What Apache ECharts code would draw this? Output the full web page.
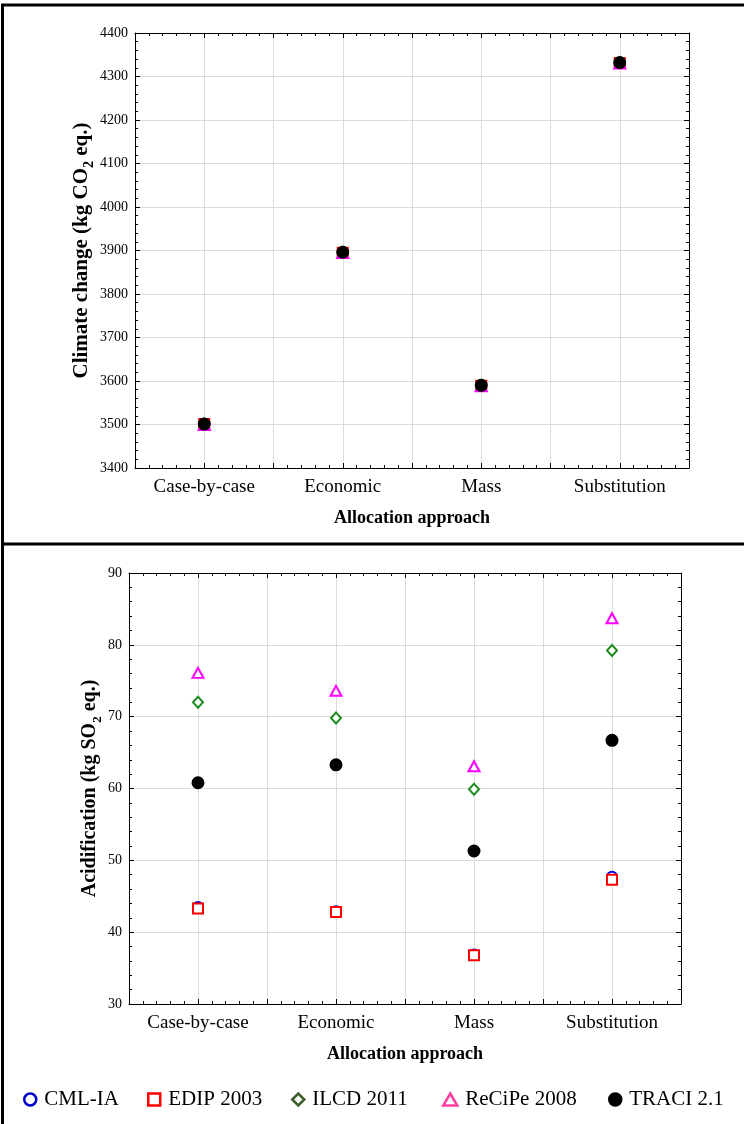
<!DOCTYPE html>
<html>
<head>
<meta charset="utf-8">
<script src="https://cdn.jsdelivr.net/npm/echarts@6/dist/echarts.min.js"></script>
<style>
html, body { margin: 0; padding: 0; background: #fff; }
#chart { width: 744px; height: 1124px; }
</style>
</head>
<body>
<div id="chart"></div>
<script>
const categories = ['Case-by-case', 'Economic', 'Mass', 'Substitution'];
const methods = ['CML-IA', 'EDIP 2003', 'ILCD 2011', 'ReCiPe 2008', 'TRACI 2.1'];

// climate change, kg CO2 eq. (all methods nearly on top of each other)
const climateCML = [3502, 3896, 3590, 4332];
const climateEDIP = [3501, 3895, 3589, 4331];
const climateILCD = [3501, 3896, 3590, 4332];
const climateReCiPe = [3499, 3894, 3588, 4330];
const climateTRACI = [3501, 3896, 3590, 4332];

// acidification, kg SO2 eq.
const acidCML = [43.5, 42.9, 36.9, 47.7];
const acidEDIP = [43.3, 42.8, 36.8, 47.3];
const acidILCD = [72.0, 69.8, 59.9, 79.2];
const acidReCiPe = [76.1, 73.6, 63.1, 83.7];
const acidTRACI = [60.8, 63.3, 51.3, 66.7];

const climateTicks = { min: 3400, max: 4400, interval: 100 };
const acidTicks = { min: 30, max: 90, interval: 10 };

const SERIF = '"Liberation Serif", "Times New Roman", serif';

// marker look per method
const styles = [
    { symbol: 'circle', size: 10, color: '#fff', border: '#0000dd', legendBorder: '#0000cc' },
    { symbol: 'rect', size: 10, color: '#fff', border: '#ff0000', legendBorder: '#ff0000' },
    { symbol: 'diamond', size: [10, 11], color: '#fff', border: '#1c8c1c', legendBorder: '#3b5e2b' },
    { symbol: 'triangle', size: [11, 10], color: '#fff', border: '#ff00ff', legendBorder: '#ff3fa0' },
    { symbol: 'circle', size: 11, color: '#000', border: '#000', legendBorder: '#000' },
];
const legendLeft = [23, 147, 291, 442, 608];

function toPoints(values) {
    // category i sits at x = 2i + 1 on a 0..8 axis, so grid lines fall on and between categories
    return values.map((v, i) => [2 * i + 1, v]);
}

function xAxisPair(gridIndex) {
    const base = {
        gridIndex: gridIndex,
        type: 'value',
        min: 0,
        max: 8,
        interval: 1,
        axisLine: { show: true, onZero: false, lineStyle: { color: '#000', width: 1 } },
        axisTick: { show: true, inside: true, length: 5, lineStyle: { color: '#000' } },
        minorTick: { show: true, splitNumber: 5, length: 3, lineStyle: { color: '#000' } },
    };
    return [
        Object.assign({}, base, {
            position: 'bottom',
            name: 'Allocation approach',
            nameLocation: 'middle',
            nameGap: 41,
            nameTextStyle: { fontFamily: SERIF, fontWeight: 'bold', fontSize: 18, color: '#000' },
            axisLabel: {
                margin: 10,
                fontFamily: SERIF,
                fontSize: 19,
                color: '#000',
                formatter: (v) => (v % 2 === 1 ? categories[(v - 1) / 2] : ''),
            },
            splitLine: {
                show: true,
                lineStyle: { color: '#dcdcdc', width: 1 },
            },
        }),
        Object.assign({}, base, {
            position: 'top',
            axisLabel: { show: false },
            splitLine: { show: false },
        }),
    ];
}

function yAxisPair(gridIndex, ticks, name, nameGap, nameSize) {
    const base = {
        gridIndex: gridIndex,
        type: 'value',
        min: ticks.min,
        max: ticks.max,
        interval: ticks.interval,
        axisLine: { show: true, onZero: false, lineStyle: { color: '#000', width: 1 } },
        axisTick: { show: true, inside: true, length: 5, lineStyle: { color: '#000' } },
        minorTick: { show: true, splitNumber: 5, length: 3, lineStyle: { color: '#000' } },
    };
    return [
        Object.assign({}, base, {
            position: 'left',
            name: name,
            nameLocation: 'middle',
            nameGap: nameGap,
            nameMoveOverlap: false,
            nameTextStyle: {
                rich: {
                    b: { fontFamily: SERIF, fontWeight: 'bold', fontSize: nameSize, color: '#000', lineHeight: nameSize + 2 },
                    s: { fontFamily: SERIF, fontWeight: 'bold', fontSize: Math.round(nameSize * 0.65), color: '#000', lineHeight: nameSize + 8, verticalAlign: 'bottom' },
                },
            },
            axisLabel: { margin: 7, fontFamily: SERIF, fontSize: 14, color: '#000', formatter: (v) => String(v) },
            splitLine: { show: true, lineStyle: { color: '#dcdcdc', width: 1 } },
        }),
        Object.assign({}, base, {
            position: 'right',
            axisLabel: { show: false },
            splitLine: { show: false },
        }),
    ];
}

function panelSeries(valueSets, axisIndex) {
    return valueSets.map((vals, i) => ({
        name: methods[i],
        type: 'scatter',
        xAxisIndex: axisIndex,
        yAxisIndex: axisIndex,
        symbol: styles[i].symbol,
        symbolSize: styles[i].size,
        itemStyle: { color: styles[i].color, borderColor: styles[i].border, borderWidth: 2, opacity: 1 },
        emphasis: { disabled: true },
        data: toPoints(vals),
        z: 2 + i,
    }));
}

const chart = echarts.init(document.getElementById('chart'), null, { renderer: 'canvas' });

chart.setOption({
    backgroundColor: '#fff',
    animation: false,
    grid: [
        { left: 135, right: 55, top: 33, height: 435 },
        { left: 129, right: 63, top: 573, height: 431 },
    ],
    xAxis: [...xAxisPair(0), ...xAxisPair(1)],
    yAxis: [
        ...yAxisPair(0, climateTicks, '{b|Climate change (kg CO}{s|2}{b| eq.)}', 39, 21),
        ...yAxisPair(1, acidTicks, '{b|Acidification (kg SO}{s|2}{b| eq.)}', 25, 20),
    ],
    legend: methods.map((m, i) => ({
        data: [{
            name: m,
            itemStyle: { borderColor: styles[i].legendBorder, borderWidth: 2.5 },
        }],
        left: legendLeft[i],
        top: 1089,
        itemWidth: i === 3 ? 14 : 12,
        itemHeight: 12,
        itemGap: 0,
        padding: 0,
        selectedMode: false,
        textStyle: { fontFamily: SERIF, fontSize: 21, color: '#000', padding: [0, 0, 0, 3] },
    })),
    series: [
        ...panelSeries([climateCML, climateEDIP, climateILCD, climateReCiPe, climateTRACI], 0),
        ...panelSeries([acidCML, acidEDIP, acidILCD, acidReCiPe, acidTRACI], 2),
    ],
    graphic: [
        { type: 'line', shape: { x1: 2.5, y1: 5, x2: 2.5, y2: 1124 }, style: { stroke: '#000', lineWidth: 3 } },
        { type: 'line', shape: { x1: 1, y1: 5, x2: 744, y2: 5 }, style: { stroke: '#000', lineWidth: 3 } },
        { type: 'line', shape: { x1: 1, y1: 544, x2: 744, y2: 544 }, style: { stroke: '#000', lineWidth: 3 } },
    ],
});
</script>
</body>
</html>
